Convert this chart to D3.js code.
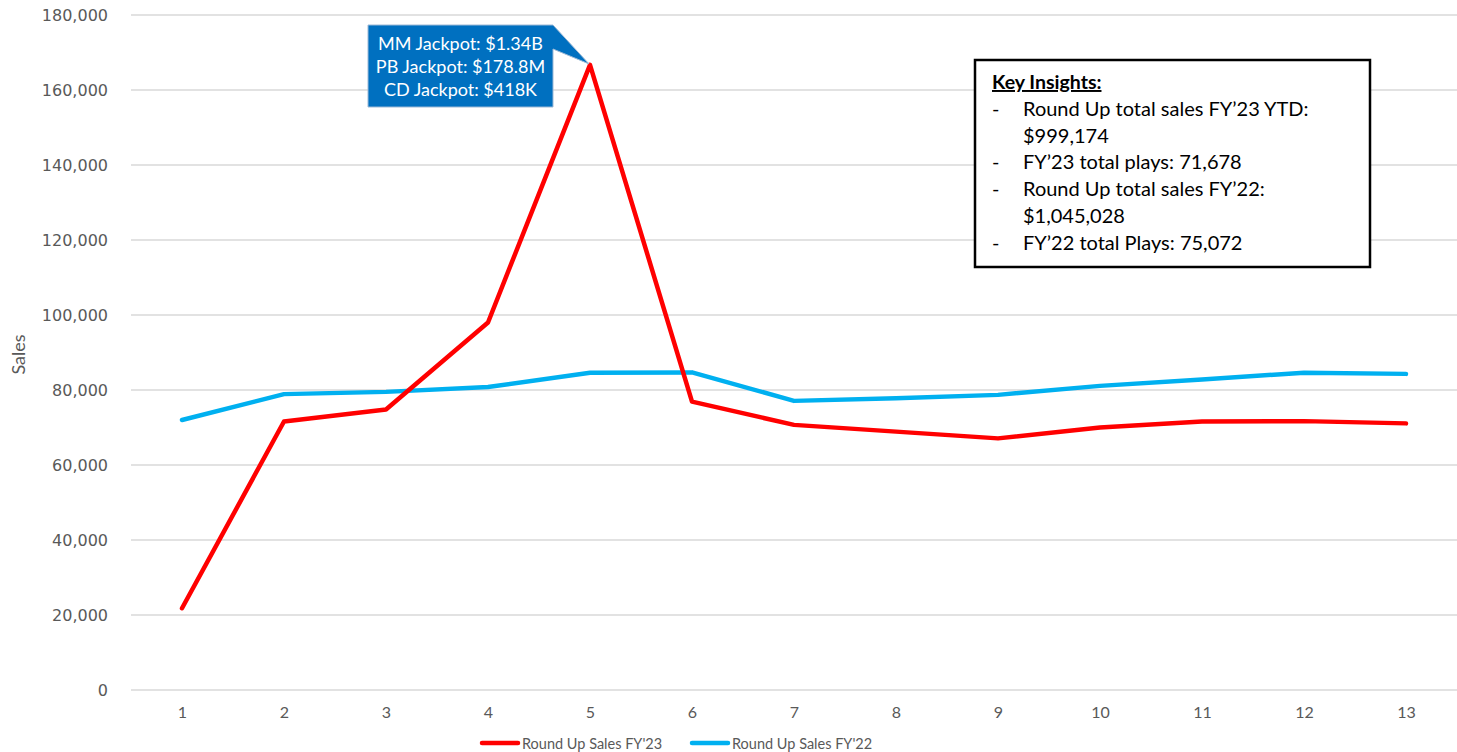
<!DOCTYPE html>
<html>
<head>
<meta charset="utf-8">
<script src="https://cdn.jsdelivr.net/npm/d3@7"></script>
<style>
  html, body { margin: 0; padding: 0; background: #fff; }
  svg { display: block; }
</style>
</head>
<body>
<svg id="chart" width="1457" height="752"></svg>
<script>
// ---- Data ----
const periods = [1, 2, 3, 4, 5, 6, 7, 8, 9, 10, 11, 12, 13];
const salesFY23 = [21800, 71600, 74800, 98000, 166700, 76900, 70700, 68900, 67100, 70000, 71600, 71700, 71100];
const salesFY22 = [72000, 78900, 79500, 80800, 84600, 84700, 77100, 77800, 78700, 81100, 82800, 84600, 84300];
const yTicks = [0, 20000, 40000, 60000, 80000, 100000, 120000, 140000, 160000, 180000];
const seriesNames = ["Round Up Sales FY'23", "Round Up Sales FY'22"];
const seriesColors = ["#FF0000", "#00B0F0"];
const calloutLines = ["MM Jackpot: $1.34B", "PB Jackpot: $178.8M", "CD Jackpot: $418K"];
const insightsTitle = "Key Insights:";
const insightsLines = [
  { dash: true, text: "Round Up total sales FY\u201923 YTD:" },
  { dash: false, text: "$999,174" },
  { dash: true, text: "FY\u201923 total plays: 71,678" },
  { dash: true, text: "Round Up total sales FY\u201922:" },
  { dash: false, text: "$1,045,028" },
  { dash: true, text: "FY\u201922 total Plays: 75,072" }
];

// ---- Layout ----
const svg = d3.select("#chart");
const plot = { left: 131, right: 1457, top: 15, bottom: 690 };

const x = d3.scalePoint().domain(periods).range([plot.left, plot.right]).padding(0.5);
const y = d3.scaleLinear().domain([0, 180000]).range([plot.bottom, plot.top]);

// gridlines
svg.append("g").selectAll("line").data(yTicks).join("line")
  .attr("x1", plot.left).attr("x2", plot.right)
  .attr("y1", d => y(d)).attr("y2", d => y(d))
  .attr("stroke", "#d9d9d9").attr("stroke-width", 1.3);

// y axis
const yAxis = d3.axisLeft(y).tickValues(yTicks).tickSize(0).tickPadding(0)
  .tickFormat(d3.format(","));
const gy = svg.append("g").attr("transform", `translate(${plot.left - 23},0)`).call(yAxis);
gy.select(".domain").remove();
gy.selectAll("text").attr("fill", "#595959")
  .style("font-family", "'DejaVu Sans', sans-serif").style("font-size", "16px");

// x axis
const xAxis = d3.axisBottom(x).tickSize(0).tickPadding(0);
const gx = svg.append("g").attr("transform", `translate(0,${plot.bottom + 17})`).call(xAxis);
gx.select(".domain").remove();
gx.selectAll("text").attr("fill", "#595959")
  .style("font-family", "Lato, sans-serif").style("font-size", "16px");

// y title
svg.append("text")
  .attr("transform", `translate(25,${(plot.top + plot.bottom) / 2 + 2}) rotate(-90)`)
  .attr("text-anchor", "middle")
  .attr("fill", "#595959")
  .style("font-family", "Lato, sans-serif").style("font-size", "18px")
  .text("Sales");

// lines
const line = d3.line().x((d, i) => x(periods[i])).y(d => y(d));
[salesFY22, salesFY23].forEach((s, k) => {
  const color = k === 0 ? seriesColors[1] : seriesColors[0];
  svg.append("path").datum(s)
    .attr("d", line)
    .attr("fill", "none")
    .attr("stroke", color)
    .attr("stroke-width", 4.5)
    .attr("stroke-linejoin", "round")
    .attr("stroke-linecap", "round");
});

// callout
const tipX = x(5), tipY = y(salesFY23[4]);
const box = { x: 368, y: 25, w: 185, h: 82 };
const callout = svg.append("g");
callout.append("path")
  .attr("d", `M${box.x},${box.y} H${box.x + box.w} L${tipX - 1},${tipY - 1} L${box.x + box.w},${box.y + 24} V${box.y + box.h} H${box.x} Z`)
  .attr("fill", "#0070C0")
  .attr("stroke", "#9DB9D6")
  .attr("stroke-width", 1);
callout.selectAll("text").data(calloutLines).join("text")
  .attr("x", box.x + box.w / 2)
  .attr("y", (d, i) => box.y + 25 + i * 23)
  .attr("text-anchor", "middle")
  .attr("fill", "#ffffff")
  .style("font-family", "Lato, sans-serif").style("font-size", "18px")
  .text(d => d);

// key insights box
const ib = { x: 975, y: 60, w: 395, h: 207 };
const ins = svg.append("g");
ins.append("rect").attr("x", ib.x).attr("y", ib.y).attr("width", ib.w).attr("height", ib.h)
  .attr("fill", "#fff").attr("stroke", "#000").attr("stroke-width", 2.5);
ins.append("text")
  .attr("x", ib.x + 17).attr("y", ib.y + 29)
  .attr("fill", "#000")
  .style("font-family", "Lato, sans-serif").style("font-size", "19.5px").style("font-weight", "bold")
  .style("text-decoration", "underline")
  .text(insightsTitle);
insightsLines.forEach((l, i) => {
  const yy = ib.y + 56 + i * 26.7;
  if (l.dash) {
    ins.append("text").attr("x", ib.x + 17).attr("y", yy)
      .style("font-family", "Lato, sans-serif").style("font-size", "20px").attr("fill", "#000")
      .text("-");
  }
  ins.append("text").attr("x", ib.x + 48).attr("y", yy)
    .style("font-family", "Lato, sans-serif").style("font-size", "20px").attr("fill", "#000")
    .text(l.text);
});

// legend
const legendItems = [
  { name: seriesNames[0], color: seriesColors[0], x: 482 },
  { name: seriesNames[1], color: seriesColors[1], x: 692 }
];
const lg = svg.append("g");
legendItems.forEach(it => {
  lg.append("line").attr("x1", it.x).attr("x2", it.x + 36).attr("y1", 743).attr("y2", 743)
    .attr("stroke", it.color).attr("stroke-width", 4.5).attr("stroke-linecap", "round");
  lg.append("text").attr("x", it.x + 40).attr("y", 749)
    .attr("fill", "#595959")
    .style("font-family", "Lato, sans-serif").style("font-size", "14.5px")
    .text(it.name);
});
</script>
</body>
</html>
